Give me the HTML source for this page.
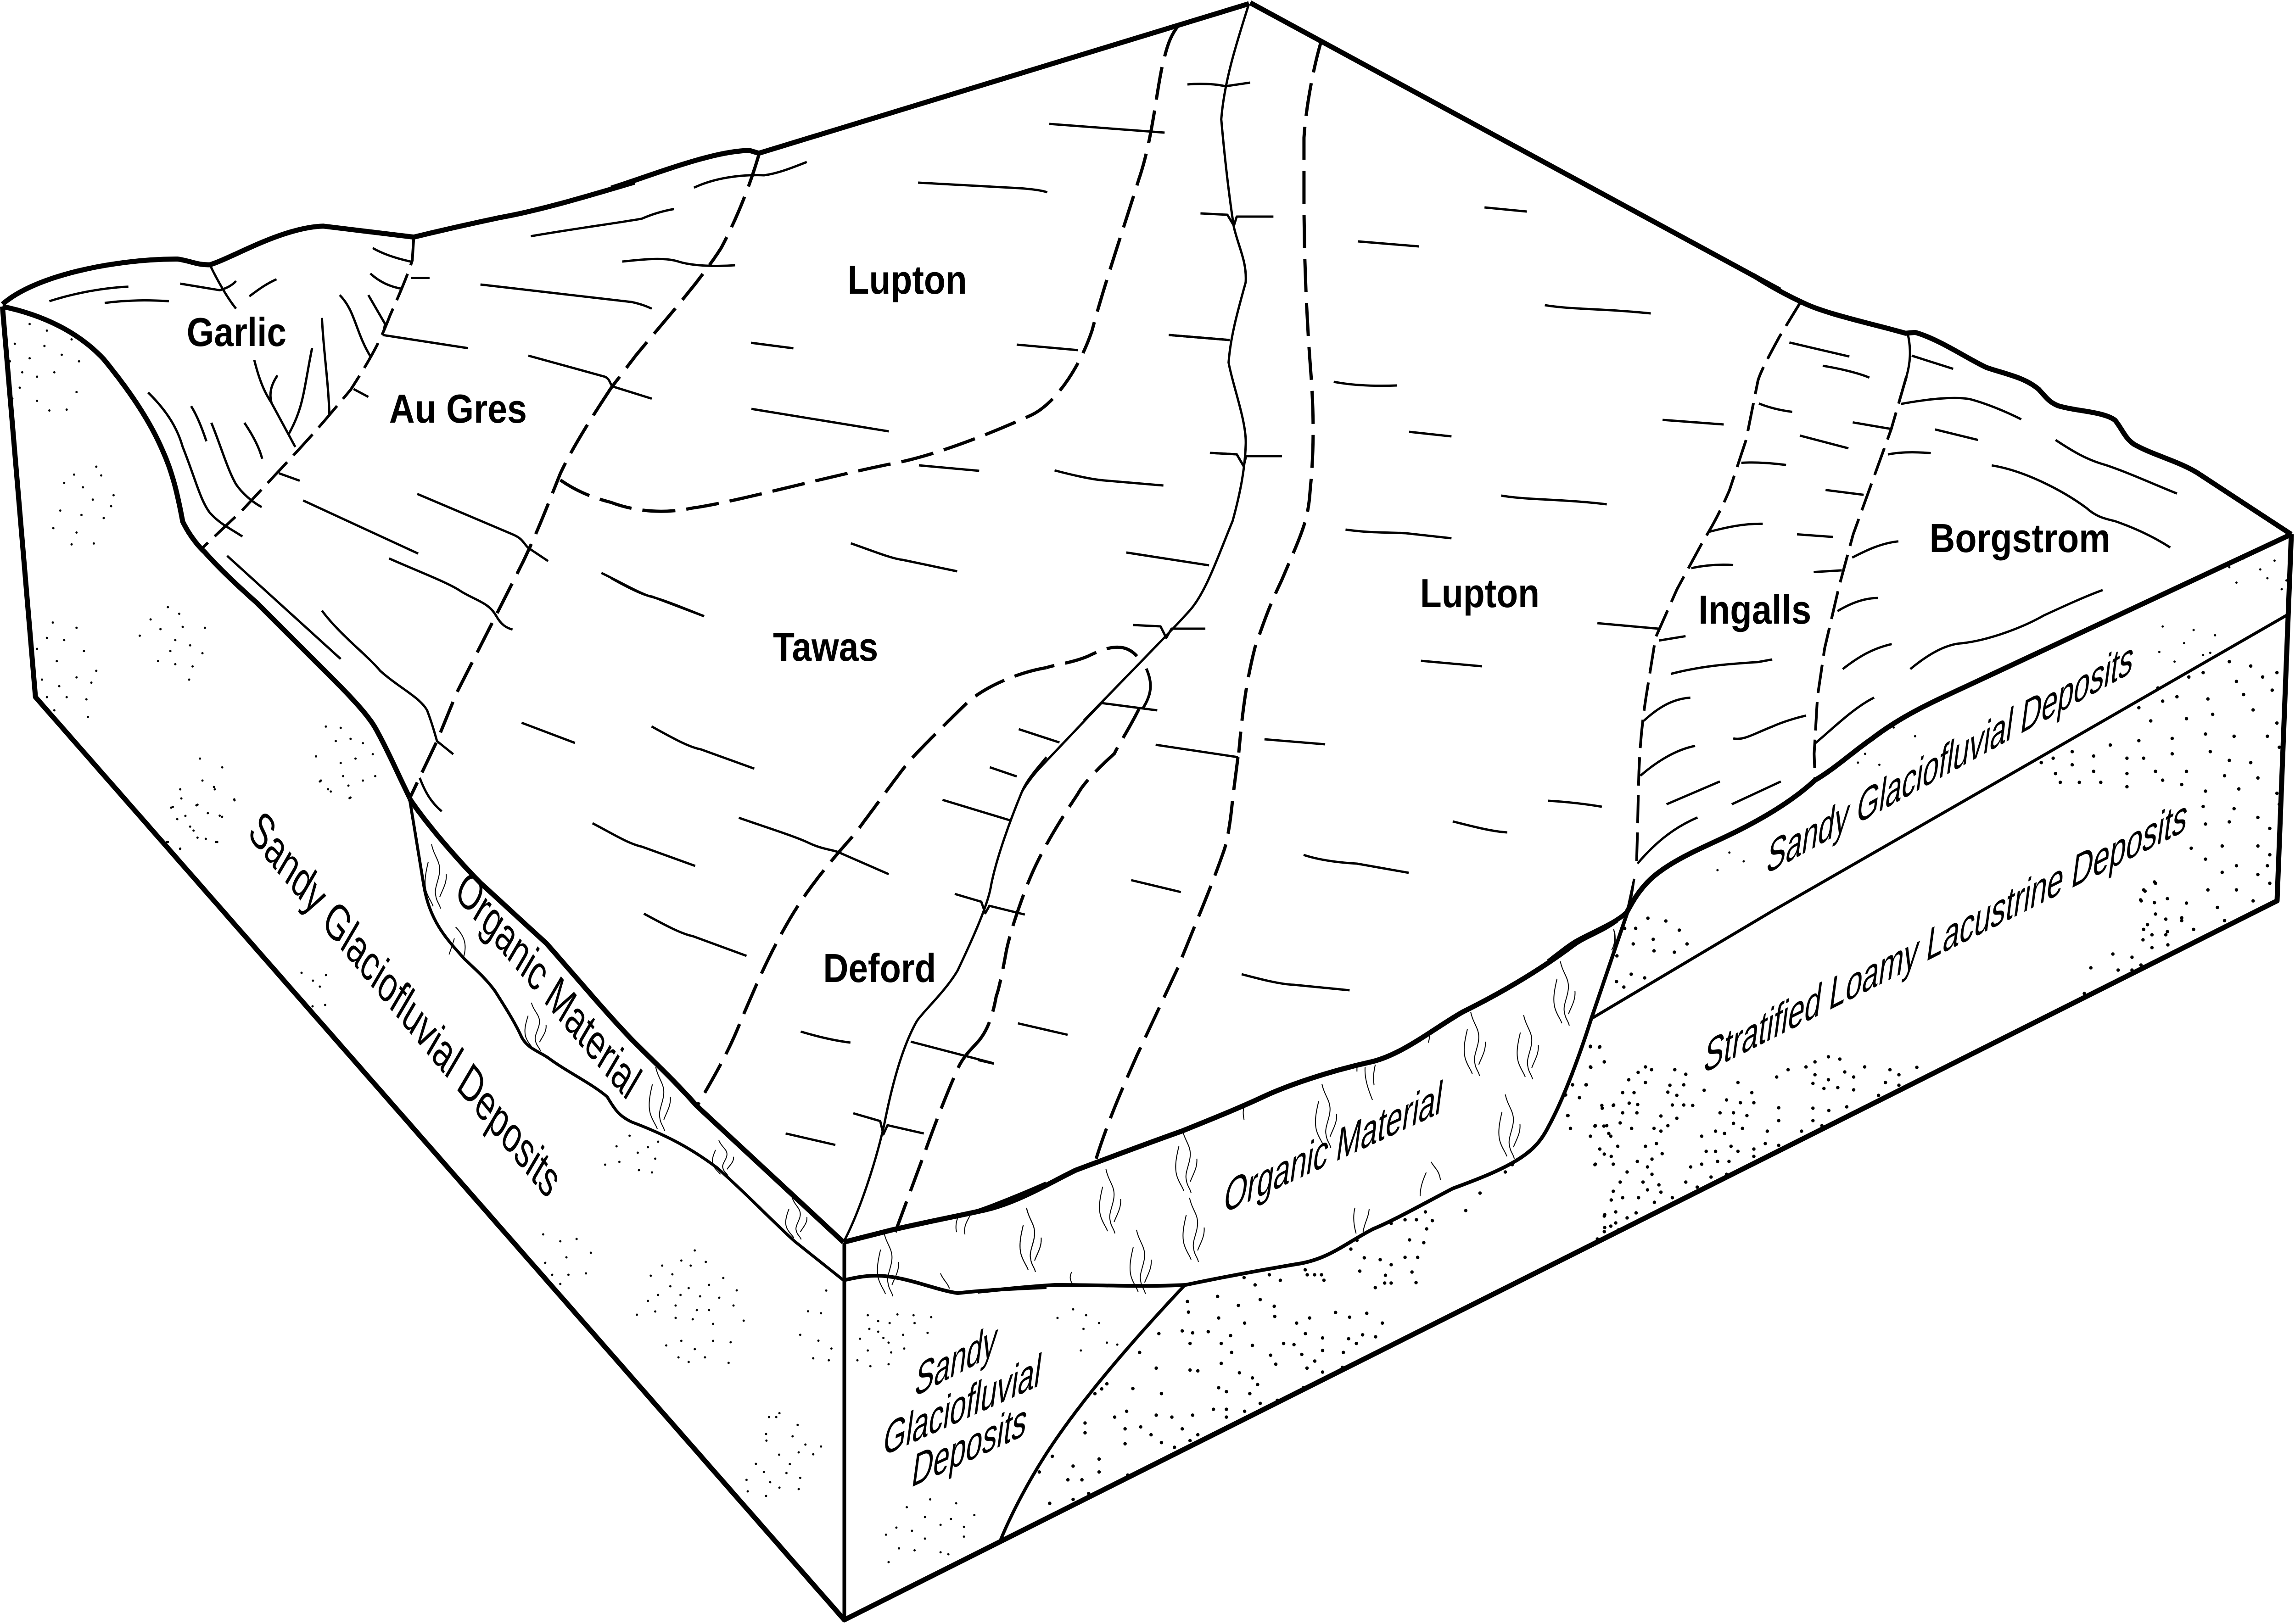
<!DOCTYPE html>
<html><head><meta charset="utf-8"><title>Soil block diagram</title>
<style>
html,body{margin:0;padding:0;background:#fff;width:100%;height:100%;overflow:hidden}
svg{display:block;width:100vw;height:100vh}
path{fill:none;stroke:#000;vector-effect:non-scaling-stroke;stroke-linecap:butt;stroke-linejoin:round}
.o{stroke-width:11}.m{stroke-width:8}.n{stroke-width:6.5}
.t{stroke-width:5}
.d{stroke-width:7;stroke-dasharray:72 24}
.e{stroke-width:6;stroke-dasharray:62 20}
.h{stroke-width:2}
.b{stroke-width:7.5;stroke-linecap:round}
.s{stroke-width:5;stroke-linecap:round}
text{fill:#000;stroke:none;font-family:"Liberation Sans",sans-serif}
.l{font-weight:bold;font-size:88px}
.i{font-size:104px}
</style></head><body>
<svg xmlns="http://www.w3.org/2000/svg" viewBox="0 0 5632 3539" preserveAspectRatio="none">
<defs>
<path id="w" class="h" d="M14 0C20 25 34 35 34 55C34 75 20 95 24 110C26 125 34 130 36 140M6 38C0 60-6 85 2 105C8 120 14 125 18 135M50 65C52 85 40 100 34 115"/>
</defs>
<rect width="5632" height="3539" fill="#fff"/>

<!-- fixed outline in real coordinates -->
<path class="o" d="M6 668L87 1519L2072 3530L5588 1963L5623 1164"/>
<path class="m" d="M2072 2708V3530"/>
<path class="n" d="M3905 2220L4350 1985L5003 1652L5611 1341"/>
<path class="o" d="M3068 6L4368 632"/>

<!-- zoom 1 region -->
<g transform="translate(0,400) scale(1.2117,.9566)">
<path class="o" d="M5 275C70 210 230 172 360 172C385 176 400 186 425 185C470 170 570 100 655 97L838 122C900 105 960 90 1010 78C1100 60 1200 25 1285 -3"/>
<path class="o" d="M5 280C90 300 160 340 210 400C250 455 300 530 330 610C350 660 360 710 370 770C385 805 405 830 415 840C450 885 500 935 520 955L640 1090C680 1135 740 1200 760 1240C785 1290 810 1355 830 1400"/>
<path class="e" d="M838 122L835 175C825 210 810 250 790 300C770 360 750 400 710 470L665 530C620 590 560 660 490 745L410 830"/>
<path class="d" d="M1238 465C1200 530 1160 600 1135 660C1110 730 1090 790 1060 860C1020 950 970 1060 925 1160L885 1270L830 1400"/>
<path class="t" d="M100 268C150 250 210 237 260 235M212 272C260 265 300 265 342 268M425 185C440 220 460 260 478 285M365 228L445 243C460 238 470 232 478 222M505 257C525 240 540 228 560 218M755 147C775 160 800 170 833 178M750 205C770 225 790 235 815 240M832 215H870M688 254C720 290 720 340 752 397M746 254L780 320L775 345M652 306C655 380 665 450 667 525M632 375C615 470 615 510 585 570M515 402C530 470 545 490 550 500L598 600M562 437C548 460 545 480 550 500M716 468L746 486M300 476C340 520 360 560 370 600C395 670 405 720 425 750C445 775 465 785 491 804M387 507C400 530 410 560 418 587M428 545C445 590 460 650 478 685C490 705 510 725 530 737M495 545C510 570 525 600 531 627M565 660L607 677M614 722L847 843M845 707L1040 800C1060 810 1060 820 1070 830L1110 860M788 854C850 885 910 910 935 930C965 950 990 955 1005 985C1015 1005 1025 1012 1038 1016M460 848L690 1083M652 973C690 1030 740 1070 770 1110C810 1150 850 1170 865 1200C875 1230 880 1250 885 1270L918 1300M1218 887C1260 910 1290 930 1315 940C1350 950 1390 970 1425 985M1075 120C1150 105 1250 90 1300 80C1320 70 1340 63 1365 58M973 230L1280 270C1300 275 1310 280 1320 285M775 345L948 375M1070 392L1225 440C1235 445 1235 455 1240 462L1320 490"/>
<path class="s" d="M30 365h.01M95 335h.01M60 320h.01M20 405h.01M60 398h.01M90 370h.01M125 390h.01M160 405h.01M45 430h.01M75 440h.01M110 430h.01M155 475h.01M40 465h.01M75 495h.01M100 517h.01M135 515h.01M145 355h.01M25 490h.01M150 663h.01M195 645h.01M130 682h.01M168 692h.01M205 665h.01M230 710h.01M188 720h.01M122 745h.01M165 755h.01M210 762h.01M225 735h.01M108 785h.01M155 795h.01M145 822h.01M190 820h.01M340 965h.01M305 993h.01M363 980h.01M283 1030h.01M325 1015h.01M370 1010h.01M415 1012h.01M355 1040h.01M385 1052h.01M320 1088h.01M355 1095h.01M410 1070h.01M390 1100h.01M383 1130h.01M345 1065h.01M107 1000h.01M155 1012h.01M75 1060h.01M95 1035h.01M130 1040h.01M170 1065h.01M115 1088h.01M85 1130h.01M120 1145h.01M155 1125h.01M195 1110h.01M185 1137h.01M95 1170h.01M135 1170h.01M175 1175h.01M110 1200h.01M178 1215h.01M660 1237h.01M690 1240h.01M640 1305h.01M680 1270h.01M710 1265h.01M735 1275h.01M650 1360h.01M690 1320h.01M720 1310h.01M755 1300h.01M695 1350h.01M735 1360h.01M670 1385h.01M708 1400h.01M760 1350h.01M405 1310h.01M450 1330h.01M365 1380h.01M410 1360h.01M435 1380h.01M475 1405h.01M350 1420h.01M400 1415h.01M445 1440h.01M385 1465h.01M340 1500h.01M440 1500h.01M400 1490h.01M365 1515h.01"/>
</g>

<!-- zoom 4 region -->
<g transform="translate(1500,0)">
<path class="o" d="M0 410C100 382 250 328 340 328L362 334L1565 8"/>
<path class="d" d="M362 338C335 420 300 490 270 540C220 610 130 700 60 775L0 845"/>
<path class="d" d="M-125 1046C-70 1080 -20 1090 0 1095C60 1115 130 1120 200 1107C300 1095 500 1045 680 1012C760 1000 880 965 1030 905C1090 880 1150 800 1180 720C1210 620 1260 490 1295 390C1330 300 1340 180 1355 135C1365 95 1375 75 1390 58"/>
<path class="t" d="M1565 8C1540 80 1505 170 1497 260C1505 340 1515 420 1528 495C1540 540 1560 570 1557 615C1540 670 1520 730 1515 790C1525 840 1560 920 1557 970C1555 1020 1545 1070 1525 1135C1490 1210 1460 1290 1420 1330C1380 1370 1280 1460 1160 1570"/>
<path class="t" d="M1075 270L1358 289M753 398L1000 410Q1050 413 1070 419M995 751L1145 763M343 747L447 759M344 891L681 940M755 1014L903 1026M1088 1025C1130 1035 1180 1045 1210 1047L1355 1058M1369 730L1517 741M1414 184C1440 182 1480 182 1507 188L1568 180M1264 1204L1467 1232M1280 1362L1348 1365L1362 1390L1375 1370H1458M588 1184C640 1200 690 1218 715 1220L849 1245M0 1260C40 1280 80 1298 100 1300L228 1343M203 409C260 385 330 380 375 382C410 378 445 365 480 353M27 570C80 565 130 560 165 570C200 580 260 581 304 578M1470 987L1535 990L1552 1016"/>
<text class="l" x="580" y="640" textLength="293" lengthAdjust="spacingAndGlyphs">Lupton</text>
<text class="l" x="397" y="1440" textLength="258" lengthAdjust="spacingAndGlyphs">Tawas</text>
</g>

<!-- zoom 5 region -->
<g transform="translate(2800,300)">
<path class="d" d="M443 -212C425 -160 405 -70 400 0L400 130C400 250 405 370 415 490C425 600 425 680 415 770C410 840 390 870 345 965C310 1030 300 1060 280 1110C260 1180 250 1240 240 1340"/>
<path class="t" d="M843 152L947 161M532 226L682 237M991 365C1060 375 1130 372 1251 383M473 532C520 540 570 542 628 540M658 641L762 651M1280 615L1430 625M884 780C950 790 1030 787 1143 799M502 854C560 862 620 860 650 862L762 873M146 165L212 168L228 192L235 172H325M169 687L235 690L252 716L258 694H346M68 430L218 441M303 1311L452 1322M687 1140L837 1152M999 1445C1040 1447 1090 1452 1131 1458M765 1490C810 1500 860 1512 899 1514M1120 1058L1270 1070"/>
<text class="l" x="685" y="1023" textLength="293" lengthAdjust="spacingAndGlyphs">Lupton</text>
</g>

<!-- zoom 6 region -->
<g transform="translate(1000,1400)">
<path class="o" d="M5 340C50 400 130 480 180 525C230 565 290 615 340 655C410 725 480 800 550 865C600 910 650 950 710 1010L1070 1307"/>
<path class="o" d="M1400 1240C1450 1225 1530 1195 1568 1180M1070 1307L1190 1280C1300 1258 1350 1250 1400 1240"/>
<path class="n" d="M5 340L40 530C55 610 100 650 140 690C170 715 195 735 215 760C240 795 265 830 280 860C295 885 320 890 345 905C390 935 450 960 490 990C510 1020 520 1032 550 1045C640 1075 700 1105 760 1145C830 1200 900 1265 950 1305L1070 1390"/>
<path class="m" d="M1568 1405C1500 1408 1430 1410 1350 1418C1290 1410 1220 1380 1150 1380C1120 1380 1095 1385 1070 1390"/>
<path class="d" d="M1568 55C1500 65 1420 95 1375 130C1340 160 1260 230 1230 260C1190 305 1130 380 1095 420C1030 485 980 540 940 600C880 690 850 760 820 820C790 890 750 950 712 1008"/>
<path class="d" d="M1400 870C1380 890 1360 905 1345 940C1320 990 1290 1060 1270 1110L1197 1285"/>
<path class="t" d="M1568 250C1540 280 1520 300 1508 325C1480 385 1445 470 1432 530C1425 570 1390 640 1350 715C1320 760 1270 800 1250 825C1215 880 1190 960 1170 1050C1150 1130 1110 1240 1070 1307"/>
<path class="t" d="M280 175L411 219M599 183C650 208 690 228 720 233L851 275M454 394C500 415 540 438 575 445L706 487M813 382C870 400 950 422 985 437C1020 452 1050 452 1065 460L1181 505M580 591C620 610 670 635 700 640L832 683M1313 343L1480 388M965 848C1010 860 1050 868 1087 872M928 1070L1050 1095M1094 1026L1160 1043L1168 1072L1178 1052L1267 1070M1343 548L1408 565L1418 590L1428 574L1515 593M1235 870L1438 917M30 295C45 330 60 350 84 368"/>
<use href="#w" transform="translate(45,440)"/>
<path class="h" d="M118 620C140 640 148 660 136 690M115 645C110 660 106 670 102 680"/>
<use href="#w" transform="translate(290,785) scale(1,.75)"/>
<use href="#w" transform="translate(595,925)"/>
<use href="#w" transform="translate(750,1085) scale(1,.55)"/>
<use href="#w" transform="translate(930,1210) scale(1,.65)"/>
<use href="#w" transform="translate(1155,1285)"/>
<path class="h" d="M1380 1250C1370 1265 1365 1275 1368 1290M1350 1255C1345 1265 1345 1280 1348 1285"/>
<use href="#w" transform="translate(1505,1232)"/>
<path class="h" d="M1308 1375C1315 1390 1325 1395 1330 1408"/>
<text class="l" x="1020" y="740" textLength="277" lengthAdjust="spacingAndGlyphs">Deford</text>
</g>

<!-- zoom 7 region -->
<g transform="translate(2400,1300)">
<path class="o" d="M1568 705C1530 730 1490 740 1460 760C1370 820 1270 870 1190 905C1120 940 1040 1000 960 1015C860 1035 760 1065 700 1090C640 1115 570 1140 500 1165C420 1190 330 1220 240 1250C170 1280 90 1325 0 1340"/>
<path class="m" d="M1400 1155C1380 1190 1360 1205 1340 1218C1290 1250 1210 1275 1165 1290C1100 1320 1020 1360 970 1378C900 1410 860 1445 780 1455C680 1470 590 1485 510 1500C400 1505 300 1500 190 1500C100 1505 60 1510 0 1515"/>
<path class="d" d="M390 130C360 100 320 108 270 130C230 145 190 148 168 155"/>
<path class="d" d="M395 245C370 290 340 330 335 342C300 370 260 405 245 430C200 490 150 560 118 635C95 690 80 730 70 770C60 820 50 860 45 870C35 920 20 950 0 970"/>
<path class="d" d="M638 350L625 440C620 490 612 530 605 550C570 640 530 720 490 810L390 1000C360 1060 320 1140 290 1225"/>
<path class="m" d="M413 157C430 190 425 215 405 243" style="stroke-width:6"/>
<path class="t" d="M305 230L150 375C130 395 118 410 108 425M303 232L440 248M436 323L638 350M799 563C840 575 890 580 930 582L1057 602M647 823C690 833 740 845 775 846L912 858M376 618L498 644M98 930L220 955M0 1010L39 1018M100 289L200 318M29 372L95 392"/>
<use href="#w" transform="translate(1195,905)"/>
<use href="#w" transform="translate(1325,912)"/>
<use href="#w" transform="translate(1415,795)"/>
<use href="#w" transform="translate(1280,1085)"/>
<path class="h" d="M1112 1232C1120 1245 1132 1250 1135 1272M1100 1255C1090 1275 1085 1290 1085 1307"/>
<path class="h" d="M960 1335C958 1355 948 1365 945 1385M925 1332C920 1350 922 1370 928 1388"/>
<use href="#w" transform="translate(830,1062)"/>
<path class="h" d="M975 1020C970 1040 970 1050 972 1065M950 1025C948 1050 958 1075 968 1097M930 1025V1035"/>
<use href="#w" transform="translate(487,1160)"/>
<use href="#w" transform="translate(300,1248)"/>
<use href="#w" transform="translate(505,1310)"/>
<use href="#w" transform="translate(105,1332)"/>
<use href="#w" transform="translate(375,1380)"/>
<path class="h" d="M655 1105C650 1118 650 1128 653 1140M230 1472C224 1482 226 1490 232 1498M1108 955C1108 962 1107 968 1105 972M1562 728C1565 745 1565 760 1558 772"/>
<path class="b" d="M1525 982h.01M1503 980h.01M1537 1014h.01M1503 1025h.01M1458 1041h.01M1459 1064h.01M1492 1064h.01M1442 1086h.01M1531 1109h.01M1559 1109h.01M1447 1131h.01M1514 1154h.01M1536 1154h.01M1553 1176h.01M1503 1176h.01M1514 1238h.01M1537 1215h.01M1559 1237h.01M1559 1296h.01M1537 1350h.01M1553 1372h.01M1537 1384h.01M1520 1400h.01M1311 1238h.01M1294 1254h.01M1232 1300h.01M1197 1338h.01M1115 1360h.01M1098 1341h.01M1076 1358h.01M1048 1358h.01M1101 1378h.01M1059 1402h.01M1094 1408h.01M1014 1366h.01M930 1403h.01M915 1422h.01M948 1441h.01M987 1445h.01M1014 1456h.01M1048 1440h.01M1079 1440h.01M1065 1472h.01M1075 1495h.01M1014 1496h.01M998 1496h.01M975 1506h.01M1000 1479h.01M937 1470h.01M803 1467h.01M808 1478h.01M826 1478h.01M843 1478h.01M849 1490h.01M742 1490h.01M715 1478h.01M680 1500h.01M653 1484h.01"/>
</g>

<!-- zoom 3 region (front) -->
<g transform="translate(1900,2200) scale(1.2755,.854)">
<path class="m" d="M790 703C700 830 600 980 530 1120C490 1200 455 1290 435 1355" style="stroke-width:7"/>
<path class="b" d="M795 745h.01M853 732h.01M893 755h.01M935 740h.01M962 757h.01M855 787h.01M797 772h.01M740 827h.01M785 820h.01M805 825h.01M835 822h.01M878 832h.01M905 800h.01M963 783h.01M1005 800h.01M1030 787h.01M1080 773h.01M1107 785h.01M1140 775h.01M1170 800h.01M1022 827h.01M980 852h.01M1055 838h.01M1105 840h.01M1132 830h.01M1157 835h.01M1120 852h.01M1095 875h.01M703 875h.01M800 852h.01M860 852h.01M880 875h.01M920 857h.01M955 882h.01M1000 855h.01M1015 880h.01M1055 870h.01M735 915h.01M690 967h.01M800 920h.01M815 922h.01M860 903h.01M895 927h.01M920 940h.01M965 905h.01M1025 915h.01M1040 897h.01M1055 925h.01M1093 913h.01M630 968h.01M640 955h.01M617 980h.01M745 980h.01M855 965h.01M870 975h.01M915 980h.01M930 957h.01M968 997h.01M1018 965h.01M678 1025h.01M735 1035h.01M765 1040h.01M805 1035h.01M845 1020h.01M870 1040h.01M905 1025h.01M935 1005h.01M655 1040h.01M598 1055h.01M675 1070h.01M705 1065h.01M785 1070h.01M815 1085h.01M870 1020h.01M598 1080h.01M745 1105h.01M770 1117h.01M800 1100h.01M845 1082h.01M675 1108h.01M725 1085h.01M625 1147h.01M575 1165h.01M625 1180h.01M592 1200h.01M565 1200h.01M510 1180h.01M535 1140h.01M680 1188h.01M605 1235h.01M575 1250h.01M530 1260h.01"/>
<path class="s" d="M180 780h.01M200 795h.01M237 778h.01M268 780h.01M302 785h.01M222 800h.01M165 840h.01M183 815h.01M200 822h.01M248 830h.01M270 800h.01M295 825h.01M210 838h.01M220 850h.01M180 870h.01M225 875h.01M250 865h.01M160 895h.01M185 910h.01M220 905h.01M545 787h.01M575 765h.01M600 780h.01M625 800h.01M590 870h.01M640 850h.01M595 815h.01M660 855h.01M255 1270h.01M300 1250h.01M350 1260h.01M290 1295h.01M340 1300h.01M215 1340h.01M235 1322h.01M265 1330h.01M320 1315h.01M365 1320h.01M385 1290h.01M240 1375h.01M270 1380h.01M290 1350h.01M320 1385h.01M365 1345h.01M335 1390h.01M220 1410h.01M100 717h.01M65 770h.01M90 775h.01M50 830h.01M85 845h.01M110 865h.01M75 890h.01M105 895h.01M45 1060h.01M10 1030h.01M60 1110h.01M90 1115h.01M30 1160h.01M75 1135h.01M50 1195h.01M10 1220h.01M-15 1100h.01M-20 1180h.01M-10 1040h.01"/>
</g>

<!-- zoom 8 region -->
<g transform="translate(3800,1900)">
<path class="o" d="M0 195C30 175 50 160 70 150C110 130 170 110 195 85" style="stroke-width:10"/>
<path class="m" d="M195 85L105 320C80 390 40 490 0 555"/>
<path class="t" d="M210 15C205 50 200 70 195 85"/>
<path class="h" d="M160 125C165 145 162 160 155 170"/>
<path class="b" d="M103 381h.01M126 381h.01M137 414h.01M104 426h.01M58 440h.01M59 464h.01M93 464h.01M42 486h.01M76 492h.01M48 531h.01M54 559h.01M238 425h.01M253 431h.01M220 437h.01M197 453h.01M238 459h.01M310 431h.01M337 441h.01M298 465h.01M332 464h.01M293 480h.01M315 487h.01M182 481h.01M210 481h.01M198 504h.01M132 515h.01M160 508h.01M219 507h.01M304 508h.01M332 508h.01M354 509h.01M182 525h.01M217 525h.01M315 537h.01M276 532h.01M293 553h.01M259 559h.01M276 565h.01M115 553h.01M143 553h.01M176 547h.01M204 559h.01M148 570h.01M126 604h.01M170 598h.01M238 598h.01M265 592h.01M154 620h.01M279 614h.01M218 631h.01M254 626h.01M115 637h.01M243 643h.01M193 654h.01M254 659h.01M176 676h.01M232 676h.01M271 682h.01M243 693h.01M276 698h.01M154 715h.01M182 710h.01M221 710h.01M260 720h.01M304 710h.01M337 676h.01M365 687h.01M399 665h.01M437 659h.01M349 643h.01M376 637h.01M415 631h.01M443 631h.01M387 609h.01M410 609h.01M448 598h.01M465 609h.01M376 576h.01M410 565h.01M432 570h.01M465 459h.01M382 476h.01M437 497h.01M471 503h.01M499 481h.01M504 503h.01M421 525h.01M454 525h.01M487 531h.01M454 548h.01M476 559h.01M504 604h.01M504 620h.01M537 565h.01M532 592h.01M565 514h.01M565 542h.01M565 596h.01M537 620h.01M560 447h.01M588 431h.01M632 425h.01M654 414h.01M687 403h.01M715 408h.01M727 436h.01M654 442h.01M687 453h.01M649 461h.01M676 472h.01M710 470h.01M749 447h.01M749 475h.01M776 425h.01M838 431h.01M860 442h.01M904 426h.01M827 459h.01M860 465h.01M810 487h.01M732 512h.01M688 520h.01M649 515h.01M649 542h.01M671 553h.01M621 565h.01M138 747h.01M165 741h.01M193 754h.01M215 743h.01M138 775h.01M165 765h.01M172 780h.01M122 802h.01M187 123h.01M214 123h.01M244 101h.01M288 107h.01M321 127h.01M208 157h.01M168 183h.01M257 147h.01M259 172h.01M309 175h.01M340 157h.01M167 239h.01M203 223h.01M236 231h.01M185 251h.01M1487 22h.01M1464 42h.01M1453 61h.01M1487 67h.01M1470 115h.01M1515 103h.01M1554 100h.01M1481 137h.01M1515 137h.01M1459 148h.01M1481 165h.01M1520 159h.01M1385 179h.01M1432 186h.01M1331 209h.01M1398 214h.01M1432 214h.01M1454 203h.01M1315 265h.01"/>
</g>

<!-- zoom 9 region -->
<g transform="translate(400,1700)">
<path class="s" d="M45 40h.01M82 55h.01M125 15h.01M175 42h.01M20 60h.01M35 85h.01M55 78h.01M110 72h.01M145 80h.01M75 110h.01M105 128h.01M130 135h.01M10 135h.01M42 150h.01M405 20h.01M385 3h.01M455 12h.01M460 38h.01M340 420h.01M368 437h.01M385 450h.01M400 425h.01M367 493h.01M398 490h.01M1145 775h.01M1190 800h.01M1215 788h.01M1113 798h.01M1165 812h.01M1120 832h.01M1208 825h.01M1085 838h.01M1168 850h.01M1200 855h.01M933 990h.01M975 1005h.01M1015 1000h.01M1050 1030h.01M990 1040h.01M938 1052h.01M955 1078h.01M995 1078h.01M1038 1075h.01M975 1098h.01M1225 1058h.01M1272 1047h.01M1305 1025h.01M1332 1050h.01M1197 1080h.01M1250 1077h.01M1295 1058h.01M1375 1085h.01M1245 1103h.01M1290 1107h.01M1340 1100h.01M1408 1112h.01M1215 1122h.01M1270 1122h.01M1318 1125h.01M1365 1128h.01M1190 1135h.01M1258 1145h.01M1310 1155h.01M1340 1155h.01M1400 1145h.01M1163 1165h.01M1208 1158h.01M1258 1172h.01M1300 1175h.01M1350 1185h.01M1425 1178h.01M1235 1232h.01M1272 1222h.01M1305 1240h.01M1350 1222h.01M1393 1225h.01M1265 1258h.01M1290 1268h.01M1330 1258h.01M1388 1270h.01M1432 1525h.01M1505 1388h.01M1480 1425h.01M1545 1430h.01M1455 1490h.01M1512 1470h.01M1560 1465h.01M1490 1530h.01M1530 1510h.01M1560 1545h.01M1435 1550h.01M1480 1560h.01"/>
</g>

<!-- zoom 2 region -->
<g transform="translate(3800,600) scale(1.1684,.9566)">
<path class="o" d="M430 0C470 28 510 50 530 60C580 88 680 110 750 132L770 130C820 145 880 190 920 210C960 225 1000 232 1030 260C1050 285 1055 290 1070 297C1110 310 1165 310 1190 330C1205 350 1210 370 1230 385C1270 410 1330 425 1370 455L1560 590"/>
<path class="o" d="M1560 590L880 935C800 975 740 1005 680 1055C640 1085 600 1125 560 1150C500 1210 420 1255 360 1285C300 1315 250 1340 215 1375C190 1400 175 1430 165 1450"/>
<path class="e" d="M530 60L485 140C465 180 445 220 440 240L415 375L380 490C360 540 345 570 325 605L270 715L225 825L205 960C195 1030 192 1080 190 1130C188 1200 187 1280 185 1340"/>
<path class="t" d="M755 135C762 170 760 200 752 230"/>
<path class="e" d="M752 230L720 350L680 470L640 590L610 710L580 850L565 960L558 1090L560 1150"/>
<path class="t" d="M506 153L632 185M576 206C610 212 650 222 674 233M442 292C465 302 490 308 512 311M639 335L720 350M763 183L850 213M740 293C790 283 850 275 885 282C920 292 960 310 993 328M812 351L902 375M528 365L630 394M1065 375C1100 400 1130 420 1170 432C1220 450 1280 480 1320 497M405 427C440 425 470 428 499 432M713 408C740 402 770 402 803 405M931 433C1000 445 1080 490 1130 530C1150 550 1170 555 1190 560C1230 575 1270 595 1306 620M582 489L662 500M335 585C370 575 410 565 450 566M522 590L598 596M638 643C670 625 700 610 735 606M300 667C330 660 360 658 388 660M557 676L616 672M607 765C630 750 660 735 692 735M232 832L288 822M257 908C320 890 380 885 440 881L470 875M618 897C650 870 680 850 721 840M760 897C790 870 830 840 870 838C930 830 1000 800 1040 775C1080 755 1130 730 1164 717M200 1015C230 985 260 965 298 962M388 1055C410 1060 430 1045 470 1028C490 1018 520 1008 541 1003M558 1068C590 1040 640 985 684 962M193 1140C230 1105 270 1080 308 1072M248 1205L360 1153M385 1205L488 1153M187 1340C230 1285 270 1255 313 1235M180 1375L165 1450"/>
<path class="s" d="M1430 665h.01M1460 645h.01M1495 670h.01M1525 650h.01M1555 652h.01M1445 700h.01M1510 690h.01M1550 695h.01M1540 715h.01M1290 800h.01M1355 808h.01M1335 838h.01M1400 820h.01M1283 858h.01M1375 865h.01M1390 860h.01M1315 880h.01M725 1030h.01M770 1050h.01M665 1090h.01M650 1110h.01M695 1115h.01M380 1315h.01M355 1355h.01M410 1335h.01"/>
<path class="b" d="M1375 905h.01M1430 880h.01M1475 890h.01M1530 905h.01M1345 915h.01M1445 925h.01M1500 915h.01M1280 940h.01M1385 965h.01M1460 955h.01M1520 945h.01M1240 985h.01M1290 970h.01M1320 960h.01M1395 1000h.01M1480 990h.01M1530 1020h.01M1265 1015h.01M1340 1010h.01M1240 1060h.01M1310 1055h.01M1380 1045h.01M1440 1050h.01M1510 1050h.01M1535 1075h.01M1180 1070h.01M1215 1100h.01M1250 1100h.01M1310 1090h.01M1390 1085h.01M1430 1105h.01M1475 1110h.01M1100 1085h.01M1060 1100h.01M1035 1110h.01M1100 1115h.01M1145 1095h.01M1065 1135h.01M1145 1130h.01M1215 1135h.01M1275 1130h.01M1340 1130h.01M1420 1140h.01M1490 1145h.01M1075 1155h.01M1115 1155h.01M1160 1155h.01M1215 1165h.01M1290 1150h.01M1330 1160h.01M1380 1175h.01M1450 1170h.01M1530 1180h.01M1375 1210h.01M1440 1215h.01M1535 1205h.01M1380 1250h.01M1430 1245h.01M1490 1235h.01M1515 1260h.01M1350 1305h.01M1415 1300h.01M1490 1300h.01M1515 1320h.01M1380 1330h.01M1445 1345h.01M1510 1345h.01M1275 1385h.01M1415 1360h.01M1490 1365h.01M1250 1400h.01M1300 1420h.01M1385 1400h.01M1445 1400h.01M1515 1385h.01M1245 1425h.01M1340 1430h.01M1405 1440h.01M1480 1425h.01M1275 1455h.01M1330 1470h.01M1420 1470h.01M1250 1490h.01M1300 1495h.01M1355 1490h.01"/>
</g>

<!-- bold soil labels -->
<text class="l" x="458" y="754" textLength="245" lengthAdjust="spacingAndGlyphs">Garlic</text>
<text class="l" x="955" y="921" textLength="338" lengthAdjust="spacingAndGlyphs">Au Gres</text>
<text class="l" x="4168" y="1359" textLength="277" lengthAdjust="spacingAndGlyphs">Ingalls</text>
<text class="l" x="4735" y="1203" textLength="444" lengthAdjust="spacingAndGlyphs">Borgstrom</text>

<!-- slanted face labels -->
<text class="i" transform="matrix(.925,-.38,-.15,1,3000,2645)" textLength="578" lengthAdjust="spacingAndGlyphs">Organic Material</text>
<text class="i" transform="matrix(.913,-.408,-.15,1,4178,2340)" textLength="1298" lengthAdjust="spacingAndGlyphs">Stratified Loamy Lacustrine Deposits</text>
<text class="i" transform="matrix(.898,-.44,-.15,1,4332,1906)" textLength="1001" lengthAdjust="spacingAndGlyphs">Sandy Glaciofluvial Deposits</text>
<text class="i" transform="matrix(.681,.732,-.55,.83,605,1820)" textLength="1086" lengthAdjust="spacingAndGlyphs">Sandy Glaciofluvial Deposits</text>
<text class="i" transform="matrix(.689,.725,-.55,.83,1112,1950)" textLength="621" lengthAdjust="spacingAndGlyphs">Organic Material</text>
<text class="i" transform="matrix(.905,-.425,-.15,1,2242,3045)" textLength="221" lengthAdjust="spacingAndGlyphs">Sandy</text>
<text class="i" transform="matrix(.928,-.371,-.15,1,2164,3174)" textLength="416" lengthAdjust="spacingAndGlyphs">Glaciofluvial</text>
<text class="i" transform="matrix(.925,-.378,-.15,1,2234,3242)" textLength="304" lengthAdjust="spacingAndGlyphs">Deposits</text>
</svg>
</body></html>
